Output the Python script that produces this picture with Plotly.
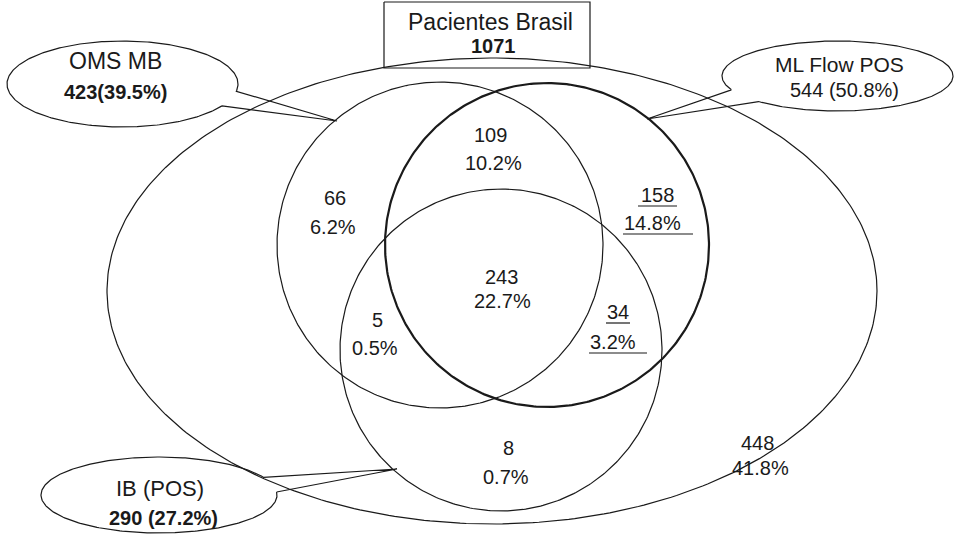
import numpy as np
import plotly.graph_objects as go

# ---------------- data ----------------
total_label = "Pacientes Brasil"
total_n = "1071"

set_names = ["OMS MB", "ML Flow POS", "IB (POS)"]
set_totals = ["423(39.5%)", "544 (50.8%)", "290 (27.2%)"]
set_total_bold = [True, False, True]

region_counts = ["109", "66", "158", "243", "5", "34", "8", "448"]
region_pcts = ["10.2%", "6.2%", "14.8%", "22.7%", "0.5%", "3.2%", "0.7%", "41.8%"]
region_underlined = [False, False, True, False, False, True, False, False]

# ---------------- layout geometry (pixel-like coordinates) ----------------
W, H = 954, 535
count_pos = [(490, 135), (335, 198), (657, 195), (501, 277), (377, 320), (618, 312), (508, 448), (757, 443)]
pct_pos = [(493, 163), (333, 227), (652, 223), (502, 301), (375, 348), (613, 342), (506, 477), (760, 468)]
# underline extents (left, right) relative to text centre for count / pct lines
ul_count = {2: (-19, 20), 5: (-12, 12)}
ul_pct = {2: (-29, 41), 5: (-24, 34)}

universe = dict(cx=492, cy=291, rx=385, ry=233)
circles = [dict(cx=440, cy=245, r=163, w=1.2),
           dict(cx=547, cy=245, r=162, w=2.2),
           dict(cx=501, cy=350, r=161, w=1.2)]

bubbles = [dict(cx=122.5, cy=84, rx=115.5, ry=43, g1=(232, 91), g2=(209, 103), tip=(337, 121),
                name_xy=(115, 61), tot_xy=(115, 92), name_size=23),
           dict(cx=837.5, cy=76, rx=115.5, ry=35, g1=(730, 90), g2=(754, 103), tip=(647, 119),
                name_xy=(839, 64), tot_xy=(844, 90), name_size=21),
           dict(cx=159, cy=495, rx=118, ry=38, g1=(260, 478), g2=(277, 492), tip=(397, 469),
                name_xy=(160, 488), tot_xy=(163, 518), name_size=22)]

box = dict(x0=384, x1=590, y0=2, y1=68)

FONT = "Liberation Sans, Arial, Helvetica, sans-serif"
INK = "#1a1a1a"

fig = go.Figure()


def add_line(xs, ys, width=1.2):
    fig.add_trace(go.Scatter(x=xs, y=ys, mode="lines", hoverinfo="skip",
                             line=dict(color=INK, width=width), showlegend=False))


t = np.linspace(0, 2 * np.pi, 400)
# universe ellipse
add_line(universe["cx"] + universe["rx"] * np.cos(t), universe["cy"] + universe["ry"] * np.sin(t), 1.2)
# set circles
for c in circles:
    add_line(c["cx"] + c["r"] * np.cos(t), c["cy"] + c["r"] * np.sin(t), c["w"])

# callout bubbles
for b in bubbles:
    def ang(p):
        return np.arctan2((p[1] - b["cy"]) / b["ry"], (p[0] - b["cx"]) / b["rx"]) % (2 * np.pi)
    t1, t2 = ang(b["g1"]), ang(b["g2"])
    d = (t2 - t1) % (2 * np.pi)
    if d < np.pi:
        ts = np.linspace(t2, t2 + (2 * np.pi - d), 300)
    else:
        ts = np.linspace(t1, t1 + d, 300)
    xs = list(b["cx"] + b["rx"] * np.cos(ts)) + [b["tip"][0], b["cx"] + b["rx"] * np.cos(ts[0])]
    ys = list(b["cy"] + b["ry"] * np.sin(ts)) + [b["tip"][1], b["cy"] + b["ry"] * np.sin(ts[0])]
    add_line(xs, ys, 1.2)

# total box
add_line([box["x0"], box["x1"], box["x1"], box["x0"], box["x0"]],
         [box["y0"], box["y0"], box["y1"], box["y1"], box["y0"]], 1.2)

annotations = []


def txt(x, y, s, size=20, bold=False):
    annotations.append(dict(x=x, y=y, xref="x", yref="y", showarrow=False,
                            text=f"<b>{s}</b>" if bold else s,
                            font=dict(family=FONT, size=size, color=INK),
                            xanchor="center", yanchor="middle"))


txt(490, 22, total_label, 23)
txt(493, 46, total_n, 20, True)

for i, b in enumerate(bubbles):
    txt(b["name_xy"][0], b["name_xy"][1], set_names[i], b["name_size"])
    txt(b["tot_xy"][0], b["tot_xy"][1], set_totals[i], 20, set_total_bold[i])

shapes = []
for i in range(len(region_counts)):
    cx, cy = count_pos[i]
    px, py = pct_pos[i]
    txt(cx, cy, region_counts[i], 20)
    txt(px, py, region_pcts[i], 20)
    if region_underlined[i]:
        a, bb = ul_count[i]
        shapes.append(dict(type="line", xref="x", yref="y", x0=cx + a, x1=cx + bb, y0=cy + 11, y1=cy + 11,
                           line=dict(color=INK, width=1.2)))
        a, bb = ul_pct[i]
        shapes.append(dict(type="line", xref="x", yref="y", x0=px + a, x1=px + bb, y0=py + 11, y1=py + 11,
                           line=dict(color=INK, width=1.2)))

fig.update_layout(
    width=W, height=H,
    margin=dict(l=0, r=0, t=0, b=0),
    paper_bgcolor="white", plot_bgcolor="white",
    xaxis=dict(range=[0, W], visible=False, fixedrange=True),
    yaxis=dict(range=[H, 0], visible=False, fixedrange=True),
    annotations=annotations, shapes=shapes,
    showlegend=False,
)

fig.write_html("out.html", config={"displayModeBar": False},
               post_script="document.body.style.margin='0';document.body.style.overflow='hidden';")
